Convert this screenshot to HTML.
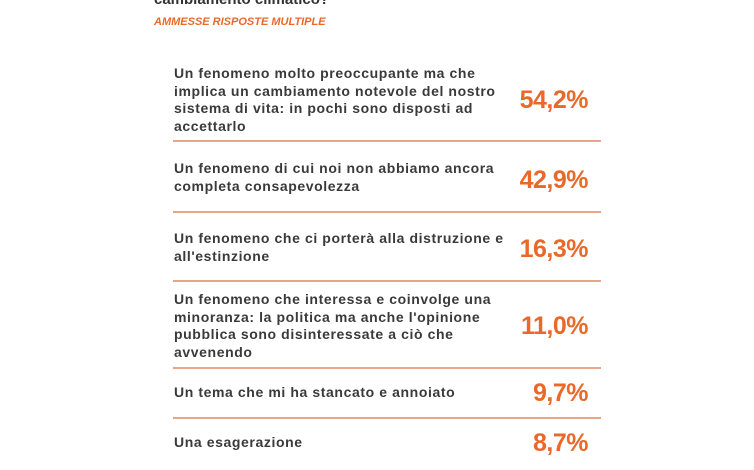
<!DOCTYPE html>
<html><head><meta charset="utf-8"><style>
body{margin:0;width:754px;height:470px;background:#fff;position:relative;overflow:hidden;font-family:"Liberation Sans",sans-serif}
.t{position:absolute;left:174px;font-size:14px;line-height:17.5px;color:#3a3a3a;font-weight:bold;letter-spacing:0.6px}
.p{position:absolute;right:166px;font-size:25px;font-weight:bold;color:#e8692a;line-height:30px;letter-spacing:-0.5px}
.l{position:absolute;left:173px;width:428px;height:2px;background:#eaa587}
</style></head><body>
<div style="position:absolute;left:154px;top:-9px;font-size:15px;font-weight:bold;color:#333">cambiamento climatico?</div>
<div style="position:absolute;left:154px;top:16px;font-size:11px;font-weight:bold;font-style:italic;color:#e8692a">AMMESSE RISPOSTE MULTIPLE</div>
<div class="t" style="top:65px">Un fenomeno molto preoccupante ma che<br>implica un cambiamento notevole del nostro<br>sistema di vita: in pochi sono disposti ad<br>accettarlo</div>
<div class="p" style="top:85px">54,2%</div>
<div class="l" style="top:140px"></div>
<div class="t" style="top:160px">Un fenomeno di cui noi non abbiamo ancora<br>completa consapevolezza</div>
<div class="p" style="top:165px">42,9%</div>
<div class="l" style="top:211px"></div>
<div class="t" style="top:230px">Un fenomeno che ci porterà alla distruzione e<br>all'estinzione</div>
<div class="p" style="top:234px">16,3%</div>
<div class="l" style="top:280px"></div>
<div class="t" style="top:291px">Un fenomeno che interessa e coinvolge una<br>minoranza: la politica ma anche l'opinione<br>pubblica sono disinteressate a ciò che<br>avvenendo</div>
<div class="p" style="top:311px">11,0%</div>
<div class="l" style="top:367px"></div>
<div class="t" style="top:384px">Un tema che mi ha stancato e annoiato</div>
<div class="p" style="top:378px">9,7%</div>
<div class="l" style="top:417px"></div>
<div class="t" style="top:434px">Una esagerazione</div>
<div class="p" style="top:428px">8,7%</div>
</body></html>
